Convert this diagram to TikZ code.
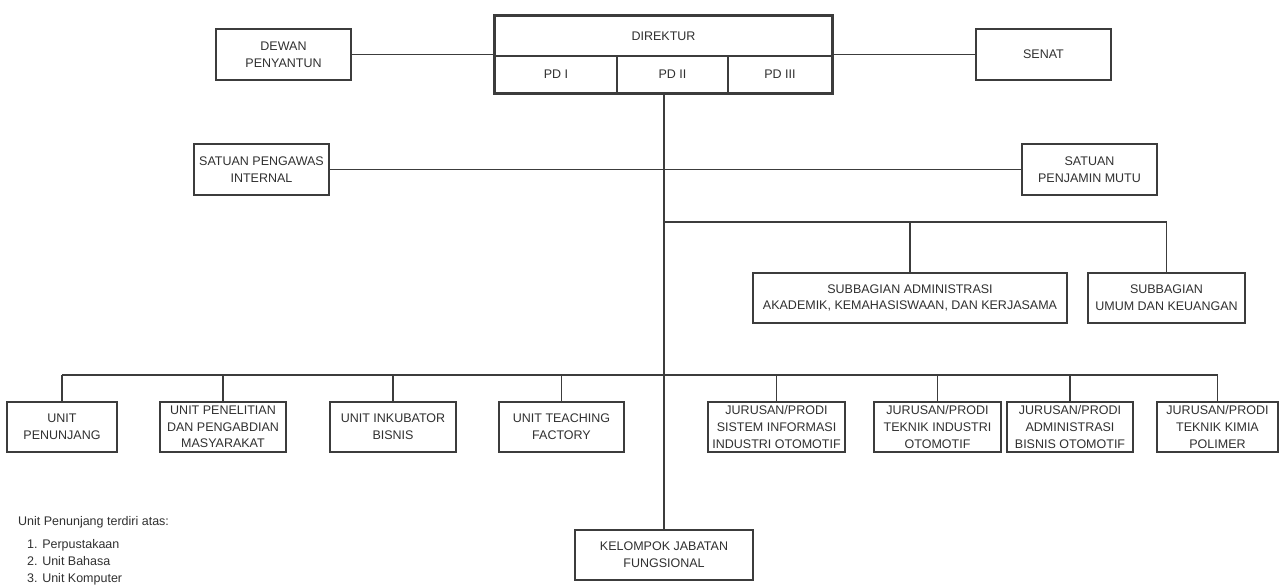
\documentclass[tikz,border=0pt]{standalone}
\usepackage{fontspec}
\setmainfont{Liberation Sans}
\usetikzlibrary{calc}

\definecolor{garis}{HTML}{3C3C3C}
\definecolor{teks}{HTML}{303030}

\tikzset{
    kotak/.style={draw=garis, line width=1.2pt, fill=white, align=center, inner sep=1pt,
        text=teks, font=\fontsize{12.5}{16.7}\selectfont, minimum height=50pt},
    hubung/.style={draw=garis, line width=1.2pt},
    catatan/.style={text=teks, font=\fontsize{12.5}{17}\selectfont, anchor=west, inner sep=0pt}
}

\begin{document}
\begin{tikzpicture}[x=1pt,y=-1pt]
        \useasboundingbox (0,0) rectangle (1283,588);
        % pimpinan
        \node[kotak, minimum width=337, minimum height=40] (dir) at (663.5,36) {DIREKTUR};
        \node[kotak, minimum width=122, minimum height=37] (pd1) at (556,74.5) {PD I};
        \node[kotak, minimum width=111, minimum height=37] (pd2) at (672.5,74.5) {PD II};
        \node[kotak, minimum width=104, minimum height=37] (pd3) at (780,74.5) {PD III};
        \draw[draw=garis, line width=3pt] (dir.north west) rectangle (pd3.south east);
        \node[kotak, minimum width=135, minimum height=51] (dewan) at (283.5,54.5) {DEWAN\\PENYANTUN};
        \node[kotak, minimum width=135, minimum height=51] (senat) at (1043.5,54.5) {SENAT};
        \draw[hubung] (dewan.east) -- (dewan.east -| pd1.west);
        \draw[hubung] (senat.west) -- (senat.west -| pd3.east);

        % satuan
        \node[kotak, minimum width=135, minimum height=51] (spi) at (261.5,169.5) {SATUAN PENGAWAS\\INTERNAL};
        \node[kotak, minimum width=135, minimum height=51] (spm) at (1089.5,169.5) {SATUAN\\PENJAMIN MUTU};
        \draw[hubung] (spi.east) -- (spm.west);

        % subbagian
        \node[kotak, minimum width=314] (sadm) at (910,298) {SUBBAGIAN ADMINISTRASI\\AKADEMIK, KEMAHASISWAAN, DAN KERJASAMA};
        \node[kotak, minimum width=157] (sumum) at (1166.5,298) {SUBBAGIAN\\UMUM DAN KEUANGAN};
        \coordinate (sb) at (664,222);
        \draw[hubung] (sb) -- (sb -| sumum) -- (sumum.north);
        \draw[hubung] (sadm.north |- sb) -- (sadm.north);

        % unit dan jurusan
        \node[kotak, minimum width=110] (upen) at (62,427) {UNIT\\PENUNJANG};
        \node[kotak, minimum width=126] (upkm) at (223,427) {UNIT PENELITIAN\\DAN PENGABDIAN\\MASYARAKAT};
        \node[kotak, minimum width=126] (uib) at (393,427) {UNIT INKUBATOR\\BISNIS};
        \node[kotak, minimum width=125] (utf) at (561.5,427) {UNIT TEACHING\\FACTORY};
        \node[kotak, minimum width=137] (jsi) at (776.5,427) {JURUSAN/PRODI\\SISTEM INFORMASI\\INDUSTRI OTOMOTIF};
        \node[kotak, minimum width=127] (jti) at (937.5,427) {JURUSAN/PRODI\\TEKNIK INDUSTRI\\OTOMOTIF};
        \node[kotak, minimum width=126] (jab) at (1070,427) {JURUSAN/PRODI\\ADMINISTRASI\\BISNIS OTOMOTIF};
        \node[kotak, minimum width=121] (jtk) at (1217.5,427) {JURUSAN/PRODI\\TEKNIK KIMIA\\POLIMER};
        \coordinate (bus) at (664,375);
        \draw[hubung] (upen.north |- bus) -- (jtk.north |- bus);
        \foreach \n in {upen,upkm,uib,utf,jsi,jti,jab,jtk}
            \draw[hubung] (\n.north |- bus) -- (\n.north);

        % kelompok jabatan fungsional
        \node[kotak, minimum width=178] (kjf) at (664,555) {KELOMPOK JABATAN\\FUNGSIONAL};
        \draw[hubung, line width=1.8pt] (pd2.south -| kjf.north) -- (kjf.north);

        % keterangan
        \node[catatan] (ket) at (18,522) {Unit Penunjang terdiri atas:};
        \node[catatan, align=left, anchor=north west] (daftar) at (27,539) {1. Perpustakaan\\2. Unit Bahasa\\3. Unit Komputer};
    \end{tikzpicture}
\end{document}
